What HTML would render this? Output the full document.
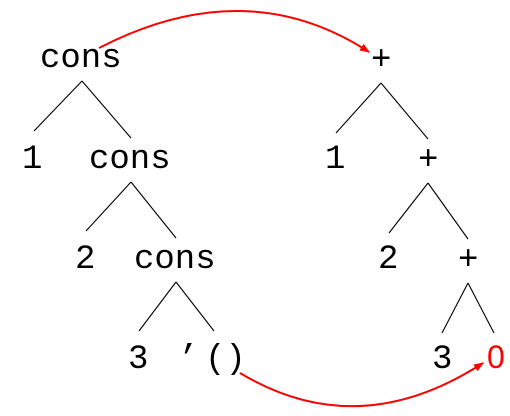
<!DOCTYPE html>
<html><head><meta charset="utf-8"><style>
html,body{margin:0;padding:0;background:#fff;}
svg{display:block;}
text{font-family:"Liberation Mono",monospace;font-size:34px;fill:#000;}
line{stroke:#000;stroke-width:1.1;}
</style></head><body>
<svg width="510" height="416" viewBox="0 0 510 416">
<defs>
<marker id="ah" markerWidth="10" markerHeight="8" refX="9" refY="4" orient="auto" markerUnits="userSpaceOnUse">
<path d="M0,0 L10,4 L0,8 Z" fill="#f00"/>
</marker>
</defs>
<g>
<text x="40" y="67">cons</text>
<line x1="82" y1="81" x2="34" y2="131"/><line x1="82" y1="81" x2="131" y2="138"/>
<text x="22" y="168">1</text>
<text x="89" y="168">cons</text>
<line x1="131" y1="182" x2="86" y2="231"/><line x1="131" y1="182" x2="176" y2="238"/>
<text x="75" y="268">2</text>
<text x="134" y="268">cons</text>
<line x1="176" y1="282" x2="139" y2="331"/><line x1="176" y1="282" x2="214" y2="331"/>
<text x="128" y="368">3</text>
<text x="178" y="368">’</text>
<text x="205" y="368">()</text>
</g>
<g>
<text x="371" y="69">+</text>
<line x1="381" y1="83" x2="336" y2="133"/><line x1="381" y1="83" x2="428" y2="139"/>
<text x="325" y="168">1</text>
<text x="418" y="169">+</text>
<line x1="428" y1="183" x2="389" y2="233"/><line x1="428" y1="183" x2="468" y2="239"/>
<text x="378" y="268">2</text>
<text x="458" y="269">+</text>
<line x1="468" y1="283" x2="442" y2="333"/><line x1="468" y1="283" x2="494" y2="333"/>
<text x="432" y="368">3</text>
<text x="487" y="368" style="fill:#f00;font-family:'Liberation Sans',sans-serif;font-size:32px">0</text>
</g>
<path d="M99,48 Q246,-28 369,52" fill="none" stroke="#f00" stroke-width="2" marker-end="url(#ah)"/>
<path d="M240,373 Q358,444 483,363" fill="none" stroke="#f00" stroke-width="2" marker-end="url(#ah)"/>
</svg>
</body></html>
